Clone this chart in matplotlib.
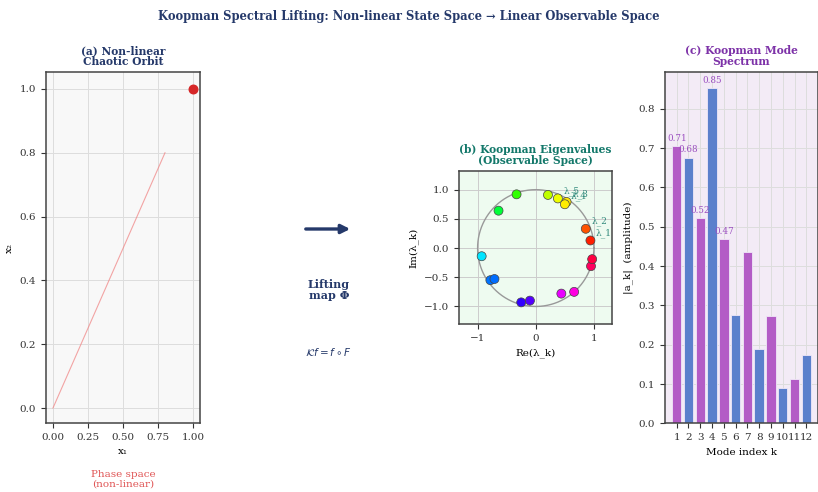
import numpy as np
import matplotlib.pyplot as plt
from matplotlib.patches import FancyArrowPatch

plt.rcParams['font.family'] = 'DejaVu Serif'
plt.rcParams['font.size'] = 7.5

NAVY = '#25396a'
TEAL = '#13786a'
PURPLE = '#7d32a8'

# orbit of the chaotic map in phase space
orbit_x1 = [0.0, 0.8]
orbit_x2 = [0.0, 0.8]
orbit_end = (1.0, 1.0)

# Koopman eigenvalues (real / imaginary parts)
eig_re = [0.94, 0.86, 0.53, 0.50, 0.38, 0.21, -0.33, -0.64, -0.93, -0.78,
          -0.71, -0.25, -0.10, 0.44, 0.66, 0.95, 0.97]
eig_im = [0.13, 0.33, 0.79, 0.75, 0.85, 0.91, 0.92, 0.64, -0.14, -0.55,
          -0.53, -0.93, -0.90, -0.78, -0.75, -0.31, -0.19]
eig_labels = ['λ_1', 'λ_2', 'λ_3', 'λ_4', 'λ_5']

# mode amplitudes |a_k|
modes = list(range(1, 13))
amplitudes = [0.706, 0.676, 0.522, 0.852, 0.469, 0.275, 0.435, 0.189,
              0.273, 0.090, 0.113, 0.173]
n_labeled = 5

fig = plt.figure(figsize=(8.18, 4.92), dpi=100)
fig.suptitle('Koopman Spectral Lifting: Non-linear State Space → Linear Observable Space',
             fontsize=8.3, fontweight='bold', color=NAVY, y=0.98)

# (a) phase space
ax1 = fig.add_axes([0.0562, 0.1402, 0.1883, 0.7134])
ax1.set_facecolor('#f8f8f8')
ax1.plot(orbit_x1, orbit_x2, color='#f08080', lw=0.8, alpha=0.7)
ax1.scatter([orbit_end[0]], [orbit_end[1]], s=38, color='#d62728', zorder=3)
ax1.set_xlim(-0.05, 1.05)
ax1.set_ylim(-0.047, 1.053)
ax1.set_xticks([0, 0.25, 0.5, 0.75, 1.0])
ax1.set_yticks([0, 0.2, 0.4, 0.6, 0.8, 1.0])
ax1.grid(True, color='#dddddd', lw=0.7)
ax1.set_axisbelow(True)
ax1.set_xlabel('x₁')
ax1.set_ylabel('x₂')
ax1.set_title('(a) Non-linear\nChaotic Orbit', fontsize=7.7, fontweight='bold',
              color=NAVY, pad=5, linespacing=1.0)
ax1.text(0.5, -0.135, 'Phase space\n(non-linear)', transform=ax1.transAxes,
         ha='center', va='top', color='#e05555', fontsize=7.5, linespacing=1.0)

# lifting arrow and text
fig.patches.append(FancyArrowPatch(
    (303 / 818, 1 - 229 / 492), (353 / 818, 1 - 229 / 492),
    transform=fig.transFigure, arrowstyle='-|>', mutation_scale=13,
    color=NAVY, lw=2.4))
fig.text(329 / 818, 1 - 290 / 492, 'Lifting\nmap Φ', ha='center', va='center',
         fontsize=8, fontweight='bold', color=NAVY, linespacing=1.0)
fig.text(329 / 818, 1 - 352 / 492, r'$\mathcal{K}f = f \circ F$', ha='center',
         va='center', fontsize=7.5, color=NAVY)

# (b) eigenvalues on the unit circle
ax2 = fig.add_axes([0.5611, 0.3415, 0.187, 0.311])
ax2.set_facecolor('#eefbf0')
t = np.linspace(0, 2 * np.pi, 300)
ax2.plot(np.cos(t), np.sin(t), color='#999999', lw=1.0)
angles = np.mod(np.arctan2(eig_im, eig_re), 2 * np.pi) / (2 * np.pi)
ax2.scatter(eig_re, eig_im, c=plt.cm.hsv(angles), s=42, edgecolor='#444444',
            linewidth=0.5, zorder=3)
for i, lab in enumerate(eig_labels):
    ax2.annotate(lab, (eig_re[i], eig_im[i]), xytext=(4, 4),
                 textcoords='offset points', fontsize=6.5, color=TEAL, alpha=0.85)
ax2.set_xlim(-1.32, 1.31)
ax2.set_ylim(-1.3, 1.32)
ax2.set_xticks([-1, 0, 1])
ax2.set_yticks([-1.0, -0.5, 0.0, 0.5, 1.0])
ax2.grid(True, color='#cccccc', lw=0.7)
ax2.set_axisbelow(True)
ax2.set_xlabel('Re(λ_k)')
ax2.set_ylabel('Im(λ_k)')
ax2.set_title('(b) Koopman Eigenvalues\n(Observable Space)', fontsize=7.7,
              fontweight='bold', color=TEAL, pad=5, linespacing=1.0)

# (c) mode amplitude spectrum
ax3 = fig.add_axes([0.813, 0.1396, 0.187, 0.7134])
ax3.set_facecolor('#f3ebf6')
bar_colors = ['#b35cc6' if k % 2 else '#5b80cc' for k in modes]
ax3.bar(modes, amplitudes, color=bar_colors, edgecolor='#f0e8f8', lw=0.6, width=0.8)
for k, a in zip(modes[:n_labeled], amplitudes[:n_labeled]):
    ax3.text(k, a + 0.008, f'{a:.2f}', ha='center', va='bottom', fontsize=6.3,
             color='#9b4fc0')
ax3.set_ylim(0, 0.893)
ax3.set_xticks(modes)
ax3.grid(True, color='#dddddd', lw=0.7)
ax3.set_axisbelow(True)
ax3.set_xlabel('Mode index k')
ax3.set_ylabel('|a_k|  (amplitude)')
ax3.set_title('(c) Koopman Mode\nSpectrum', fontsize=7.7, fontweight='bold',
              color=PURPLE, pad=5, linespacing=1.0)

for ax in (ax1, ax2, ax3):
    for s in ax.spines.values():
        s.set_color('#444444')
        s.set_linewidth(1.1)
    ax.tick_params(colors='#333333', labelsize=7.5)

fig.savefig('out.png', dpi=100)
